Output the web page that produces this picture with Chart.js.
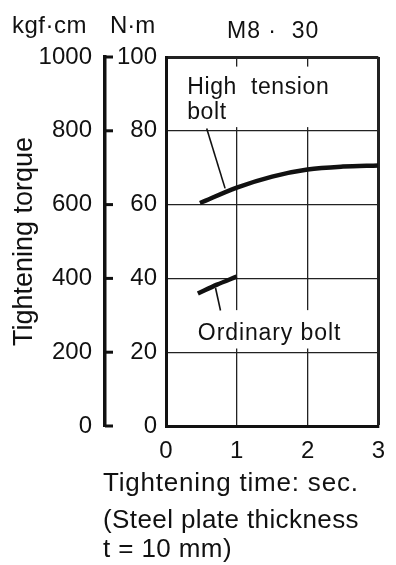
<!DOCTYPE html>
<html>
<head>
<meta charset="utf-8">
<script src="https://cdn.jsdelivr.net/npm/chart.js@4.4.1/dist/chart.umd.min.js"></script>
<style>
  html, body { margin: 0; padding: 0; background: #fff; }
  #wrap { width: 396px; height: 565px; }
</style>
</head>
<body>
<div id="wrap"><canvas id="myChartTorque" width="396" height="565"></canvas></div>
<script>
// Datos
const time_high = [0.48, 1, 1.5, 2, 2.5, 3]
const torque_high = [60.4, 64.6, 67.6, 69.5, 70.3, 70.6]
const time_ord = [0.45, 0.72, 1]
const torque_ord = [35.9, 38.3, 40.5]

const ticks_nm = [0, 20, 40, 60, 80, 100]
const ticks_kgf = [0, 200, 400, 600, 800, 1000]
const ticks_time = [0, 1, 2, 3]

// textos y lineas guia (en unidades del grafico)
const label_high = ["High  tension", "bolt"]
const label_ord = "Ordinary bolt"
const leader_high = [[0.575, 80.6], [0.835, 64.4]]
const leader_ord = [[0.70, 37.4], [0.77, 31.3]]

const FONT = '"Liberation Sans", Arial, Helvetica, sans-serif'
const chart_el = document.getElementById('myChartTorque')

const toPoints = (xs, ys) => xs.map((v, i) => ({ x: v, y: ys[i] }))

const annotPlugin = {
    id: 'annot',
    beforeDatasetsDraw(chart) {
        // tapa la grilla detras de las etiquetas
        const { ctx, scales: { x, y } } = chart
        ctx.save()
        ctx.fillStyle = '#fff'
        const boxes = [[0.1, 81, 2.95, 97.4], [0.1, 21, 2.95, 31.4]]
        boxes.forEach(b => {
            const x0 = x.getPixelForValue(b[0])
            const x1 = x.getPixelForValue(b[2])
            const y0 = y.getPixelForValue(b[1])
            const y1 = y.getPixelForValue(b[3])
            ctx.fillRect(x0, y1, x1 - x0, y0 - y1)
        })
        ctx.restore()
    },
    afterDraw(chart) {
        const { ctx, scales: { x, y, y_kgf } } = chart
        ctx.save()
        ctx.fillStyle = '#111'
        ctx.strokeStyle = '#111'

        // marcas del eje kgf hacia la derecha
        ctx.lineWidth = 3
        y_kgf.ticks.forEach(t => {
            const py = y_kgf.getPixelForValue(t.value)
            ctx.beginPath()
            ctx.moveTo(y_kgf.right, py)
            ctx.lineTo(y_kgf.right + 8, py)
            ctx.stroke()
        })

        // lineas guia
        ctx.lineWidth = 1.6
        ;[leader_high, leader_ord].forEach(l => {
            ctx.beginPath()
            ctx.moveTo(x.getPixelForValue(l[0][0]), y.getPixelForValue(l[0][1]))
            ctx.lineTo(x.getPixelForValue(l[1][0]), y.getPixelForValue(l[1][1]))
            ctx.stroke()
        })

        ctx.textBaseline = 'alphabetic'
        ctx.textAlign = 'left'
        ctx.font = '23px ' + FONT
        ctx.letterSpacing = '0.6px'
        ctx.fillText(label_high[0], x.getPixelForValue(0.3), y.getPixelForValue(90.0))
        ctx.fillText(label_high[1], x.getPixelForValue(0.3), y.getPixelForValue(83.3))
        ctx.letterSpacing = '0.9px'
        ctx.fillText(label_ord, x.getPixelForValue(0.45), y.getPixelForValue(23.2))

        // unidades y titulo
        ctx.font = '24px ' + FONT
        ctx.letterSpacing = '0.5px'
        ctx.fillText('kgf·cm', 12, 33)
        ctx.letterSpacing = '0px'
        ctx.fillText('N·m', 110, 33)
        ctx.font = '23px ' + FONT
        ctx.letterSpacing = '1px'
        ctx.fillText('M8 ·  30', 227, 38)

        // textos de abajo
        ctx.font = '26px ' + FONT
        ctx.letterSpacing = '0.8px'
        ctx.fillText('Tightening time: sec.', 103, 491)
        ctx.letterSpacing = '0.4px'
        ctx.fillText('(Steel plate thickness', 103, 528)
        ctx.fillText('t = 10 mm)', 103, 557)
        ctx.restore()
    }
}

const frameWidth = (val, max) => val === max ? 3 : 1.3
const plainLabel = v => String(v)

new Chart(chart_el, {
    type: 'line',
    data: {
        datasets: [{
            label: 'High tension bolt',
            data: toPoints(time_high, torque_high),
            borderColor: '#111',
            borderWidth: 4.5,
            pointRadius: 0,
            cubicInterpolationMode: 'monotone',
            yAxisID: 'y'
        }, {
            label: 'Ordinary bolt',
            data: toPoints(time_ord, torque_ord),
            borderColor: '#111',
            borderWidth: 4.5,
            pointRadius: 0,
            cubicInterpolationMode: 'monotone',
            yAxisID: 'y'
        }]
    },
    options: {
        responsive: false,
        animation: false,
        devicePixelRatio: 1,
        layout: { padding: { top: 57, right: 10, left: 0, bottom: 0 } },
        plugins: { legend: { display: false }, tooltip: { enabled: false } },
        scales: {
            x: {
                type: 'linear',
                min: 0, max: 3,
                afterBuildTicks: s => { s.ticks = ticks_time.map(v => ({ value: v })) },
                afterFit: s => { s.height = 139 },
                grid: {
                    color: '#222',
                    lineWidth: c => frameWidth(c.tick && c.tick.value, 3),
                    drawTicks: false
                },
                border: { display: true, color: '#111', width: 3 },
                ticks: { color: '#111', font: { family: FONT, size: 24 }, padding: 11, callback: plainLabel }
            },
            y: {
                position: 'left',
                weight: 0,
                min: 0, max: 100,
                afterBuildTicks: s => { s.ticks = ticks_nm.map(v => ({ value: v })) },
                afterFit: s => { s.width = 61 },
                grid: {
                    color: '#222',
                    lineWidth: c => frameWidth(c.tick && c.tick.value, 100),
                    drawTicks: false
                },
                border: { display: true, color: '#111', width: 3 },
                ticks: { color: '#111', font: { family: FONT, size: 24 }, padding: 9, callback: plainLabel }
            },
            y_kgf: {
                position: 'left',
                weight: 1,
                min: 0, max: 1000,
                afterBuildTicks: s => { s.ticks = ticks_kgf.map(v => ({ value: v })) },
                afterFit: s => { s.width = 105 },
                grid: { drawOnChartArea: false, drawTicks: false },
                border: { display: true, color: '#111', width: 3.5 },
                ticks: { color: '#111', font: { family: FONT, size: 24 }, padding: 13, callback: plainLabel },
                title: {
                    display: true,
                    text: 'Tightening torque',
                    color: '#111',
                    font: { family: FONT, size: 27 },
                    padding: { top: 8, bottom: 0 }
                }
            }
        }
    },
    plugins: [annotPlugin]
})
</script>
</body>
</html>
